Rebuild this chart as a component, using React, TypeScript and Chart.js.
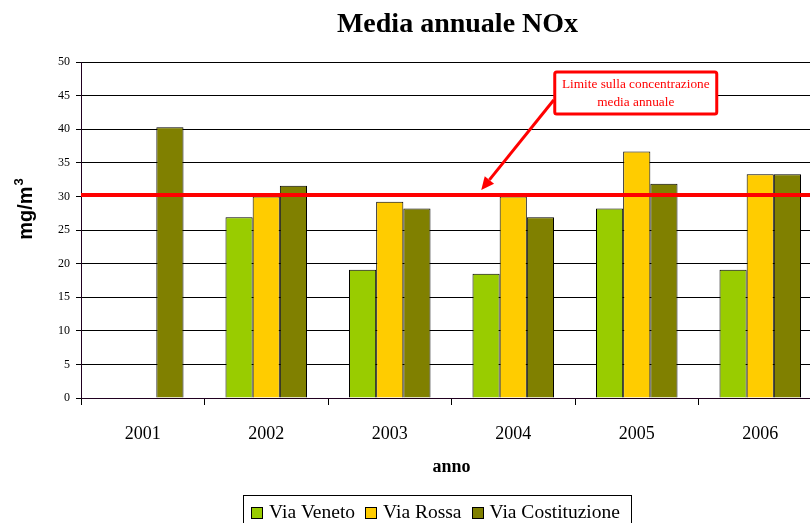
import React, { useEffect, useRef } from 'react';
import { Chart, registerables } from 'chart.js';

Chart.register(...registerables);

const years = ['2001', '2002', '2003', '2004', '2005', '2006'];
const viaVeneto = [null, 26.9, 19.1, 18.5, 28.2, 19.1];
const viaRossa = [null, 30.0, 29.2, 30.0, 36.7, 33.3];
const viaCostituzione = [40.3, 31.6, 28.2, 26.9, 31.9, 33.3];
const limitValue = 30.2;
const seriesNames = ['Via Veneto', 'Via Rossa', 'Via Costituzione'];
const seriesColors = ['#99CC00', '#FFCC00', '#808000'];
const chartTitle = 'Media annuale NOx';
const yTitleBase = 'mg/m';
const yTitleSup = '3';
const xTitle = 'anno';
const noteLines = ['Limite sulla concentrazione', 'media annuale'];

const SERIF = '"Liberation Serif", "Times New Roman", serif';
const SANS = '"Liberation Sans", Arial, sans-serif';

const decorPlugin = {
  id: 'decor',
  afterDatasetsDraw(chart: any) {
    const { ctx, chartArea, scales } = chart;
    const y = scales.y.getPixelForValue(limitValue);
    ctx.save();
    // limit line
    ctx.strokeStyle = '#FF0000';
    ctx.lineWidth = 4;
    ctx.beginPath();
    ctx.moveTo(chartArea.left, y);
    ctx.lineTo(chartArea.right, y);
    ctx.stroke();

    // annotation box
    const cx = scales.x.getPixelForValue(4) - 1;
    const bw = 162, bh = 42;
    const bx = cx - bw / 2, by = chartArea.top + 10;
    ctx.lineWidth = 3;
    ctx.strokeStyle = '#FF0000';
    ctx.fillStyle = '#FFFFFF';
    ctx.beginPath();
    (ctx as any).roundRect ? (ctx as any).roundRect(bx, by, bw, bh, 2) : ctx.rect(bx, by, bw, bh);
    ctx.fill();
    ctx.stroke();
    ctx.fillStyle = '#FF0000';
    ctx.font = `13.3px ${SERIF}`;
    ctx.textAlign = 'center';
    ctx.textBaseline = 'middle';
    ctx.fillText(noteLines[0], cx, by + 13);
    ctx.fillText(noteLines[1], cx, by + 31);

    // arrow
    const sx = bx - 1, sy = by + 28;
    const tx = scales.x.getPixelForValue(3) - 32, ty = y - 5;
    const ang = Math.atan2(ty - sy, tx - sx);
    const headLen = 13, headW = 6;
    const bxh = tx - headLen * Math.cos(ang), byh = ty - headLen * Math.sin(ang);
    ctx.lineWidth = 3;
    ctx.beginPath();
    ctx.moveTo(sx, sy);
    ctx.lineTo(bxh, byh);
    ctx.stroke();
    ctx.beginPath();
    ctx.moveTo(tx, ty);
    ctx.lineTo(bxh + headW * Math.sin(ang), byh - headW * Math.cos(ang));
    ctx.lineTo(bxh - headW * Math.sin(ang), byh + headW * Math.cos(ang));
    ctx.closePath();
    ctx.fill();
    ctx.restore();
  },
  afterDraw(chart: any) {
    const { ctx, chartArea } = chart;
    ctx.save();
    // title
    ctx.fillStyle = '#000';
    ctx.font = `bold 28px ${SERIF}`;
    ctx.textAlign = 'center';
    ctx.textBaseline = 'middle';
    ctx.fillText(chartTitle, (chartArea.left + chartArea.right) / 2 + 6, 25);

    // y title with superscript
    ctx.save();
    ctx.font = `bold 20px ${SANS}`;
    const baseW = ctx.measureText(yTitleBase).width;
    ctx.font = `bold 13px ${SANS}`;
    const supW = ctx.measureText(yTitleSup).width;
    const totalW = baseW + 1 + supW;
    const cy = (chartArea.top + chartArea.bottom) / 2 - 21;
    ctx.translate(32, cy + totalW / 2);
    ctx.rotate(-Math.PI / 2);
    ctx.textAlign = 'left';
    ctx.textBaseline = 'alphabetic';
    ctx.font = `bold 20px ${SANS}`;
    ctx.fillText(yTitleBase, 0, 0);
    ctx.font = `bold 13px ${SANS}`;
    ctx.fillText(yTitleSup, baseW + 1, -9);
    ctx.restore();

    // legend
    ctx.font = `19.5px ${SERIF}`;
    const widths = seriesNames.map((n) => ctx.measureText(n).width);
    const marker = 12, gapM = 6, gapItem = 10, padL = 8, padR = 11;
    const total = padL + widths.reduce((a, w) => a + marker + gapM + w, 0) + gapItem * 2 + padR;
    const lx = 437 - total / 2;
    const ly = 495;
    ctx.strokeStyle = '#000';
    ctx.lineWidth = 1;
    ctx.strokeRect(Math.round(lx) + 0.5, ly + 0.5, Math.round(total), 40);
    let x = lx + padL;
    ctx.textAlign = 'left';
    ctx.textBaseline = 'alphabetic';
    seriesNames.forEach((n, i) => {
      ctx.fillStyle = seriesColors[i];
      ctx.fillRect(Math.round(x), 507, marker, marker);
      ctx.strokeStyle = '#000';
      ctx.strokeRect(Math.round(x) + 0.5, 507.5, marker - 1, marker - 1);
      ctx.fillStyle = '#000';
      ctx.fillText(n, x + marker + gapM, 518);
      x += marker + gapM + widths[i] + gapItem;
    });
    ctx.restore();
  },
};

export default function App() {
  const ref = useRef<HTMLCanvasElement>(null);
  useEffect(() => {
    if (!ref.current) return;
    const chart = new Chart(ref.current, {
      type: 'bar',
      data: {
        labels: years,
        datasets: [viaVeneto, viaRossa, viaCostituzione].map((d, i) => ({
          label: seriesNames[i],
          data: d,
          backgroundColor: seriesColors[i],
          borderColor: '#000',
          borderWidth: 1,
          barPercentage: 1,
          categoryPercentage: 0.66,
        })),
      },
      options: {
        responsive: false,
        animation: false,
        devicePixelRatio: 1,
        layout: { padding: { top: 62, right: 8, left: 0, bottom: 0 } },
        plugins: {
          legend: { display: false },
          title: { display: false },
          tooltip: { enabled: false },
        },
        scales: {
          x: {
            offset: true,
            grid: {
              offset: true,
              drawOnChartArea: false,
              drawTicks: true,
              tickLength: 7,
              color: '#000',
            },
            border: { color: '#200020', width: 1 },
            ticks: {
              color: '#000',
              font: { family: SERIF, size: 18 },
              padding: 18,
            },
            title: {
              display: true,
              text: xTitle,
              color: '#000',
              font: { family: SERIF, size: 18, weight: 'bold' },
              padding: { top: 0, bottom: 45 },
            },
            afterFit(scale: any) {
              scale.height = 125;
            },
          },
          y: {
            min: 0,
            max: 50,
            ticks: {
              stepSize: 5,
              color: '#000',
              font: { family: SERIF, size: 12 },
              padding: 6,
            },
            grid: {
              color: '#000',
              lineWidth: 1,
              drawTicks: true,
              tickLength: 5,
            },
            border: { color: '#200020', width: 1 },
            title: { display: false },
            afterFit(scale: any) {
              scale.width = 81;
            },
          },
        },
      },
      plugins: [decorPlugin],
    });
    return () => chart.destroy();
  }, []);
  return (
    <div style={{ position: 'absolute', left: 0, top: 0, width: 810, height: 523, overflow: 'hidden', background: '#fff' }}>
      <canvas ref={ref} width={830} height={523} style={{ display: 'block' }} />
    </div>
  );
}
